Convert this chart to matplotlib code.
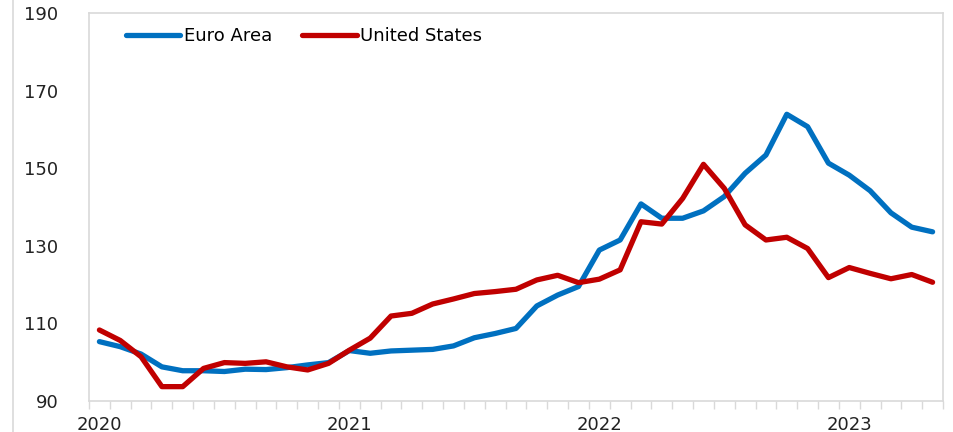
import matplotlib
matplotlib.use('Agg')
import matplotlib.pyplot as plt
import numpy as np
from matplotlib.lines import Line2D

# monthly index, Jan 2020 - May 2023
euro_area = [105.3, 104.0, 102.1, 98.8, 97.8, 97.8, 97.6, 98.2, 98.1, 98.6,
             99.3, 99.9, 103.0, 102.3, 102.9, 103.1, 103.3, 104.2, 106.3, 107.4,
             108.7, 114.5, 117.3, 119.5, 128.9, 131.5, 140.8, 137.1, 137.1, 139.0,
             142.7, 148.7, 153.4, 163.9, 160.7, 151.3, 148.2, 144.2, 138.5, 134.8,
             133.6]
united_states = [108.3, 105.6, 101.4, 93.7, 93.7, 98.4, 99.9, 99.7, 100.1, 98.8,
                 98.0, 99.7, 103.1, 106.2, 111.9, 112.6, 115.0, 116.3, 117.7, 118.2,
                 118.8, 121.2, 122.4, 120.5, 121.4, 123.8, 136.2, 135.6, 142.2, 151.0,
                 144.8, 135.4, 131.5, 132.2, 129.3, 121.8, 124.4, 122.9, 121.5, 122.6,
                 120.6]
year_labels = ['2020', '2021', '2022', '2023']
y_ticks = [90, 110, 130, 150, 170, 190]

x = np.arange(len(euro_area))

fig = plt.figure(figsize=(9.54, 4.32), dpi=100)
ax = fig.add_axes([89/954, 1 - 401/432, (943 - 89)/954, (401 - 13)/432])

ax.plot(x, euro_area, color='#0070C0', linewidth=3.8, label='Euro Area', solid_capstyle='round')
ax.plot(x, united_states, color='#C00000', linewidth=3.8, label='United States', solid_capstyle='round')

ax.set_xlim(-0.5, len(x) - 0.5)
ax.set_ylim(90, 190)
ax.set_yticks(y_ticks)
ax.tick_params(axis='y', length=0, pad=22, labelsize=13, labelcolor='#222222')

# year labels at January positions, month ticks between categories
ax.set_xticks(np.arange(0, len(x), 12))
ax.set_xticklabels(year_labels)
ax.set_xticks(np.arange(-0.5, len(x), 1), minor=True)
ax.tick_params(axis='x', which='major', length=0, pad=11, labelsize=13, labelcolor='#222222')
ax.tick_params(axis='x', which='minor', length=6, width=1, color='#D9D9D9', direction='out')

for s in ax.spines.values():
    s.set_color('#D9D9D9')
    s.set_linewidth(1.2)

leg = ax.legend(loc='upper left', bbox_to_anchor=(0.024, 1.005), ncol=2, frameon=False,
                fontsize=13, handlelength=3.0, handletextpad=0.2, columnspacing=1.7)

# outer chart-area border on the left
fig.add_artist(Line2D([13/954, 13/954], [0, 1], color='#D9D9D9', linewidth=1.2))

fig.savefig('out.png', dpi=100)
